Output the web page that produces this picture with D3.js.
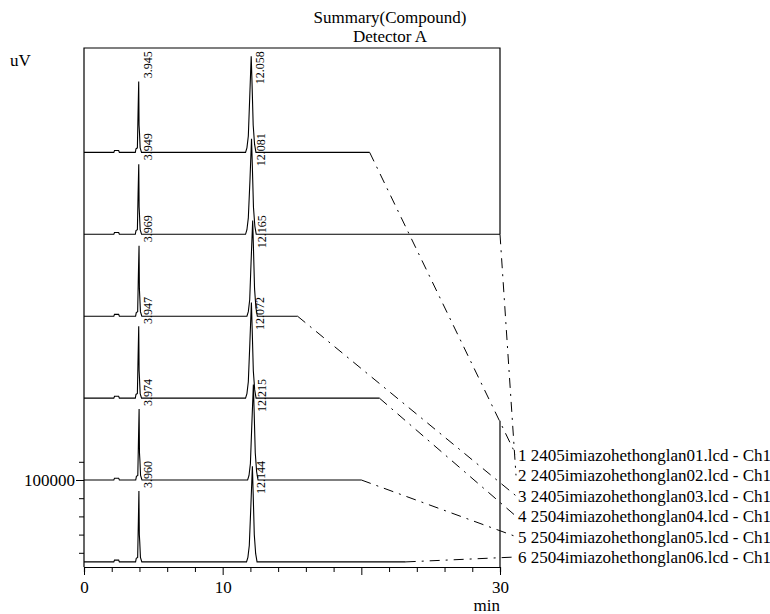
<!DOCTYPE html>
<html>
<head>
<meta charset="utf-8">
<script src="https://cdn.jsdelivr.net/npm/d3@7"></script>
<style>
  body { margin: 0; background: #fff; }
  svg text { font-family: "Liberation Serif", "Times New Roman", serif; fill: #000; }
</style>
</head>
<body>
<div id="chart"></div>
<script>
// chromatogram summary, 6 runs stacked with offset
var fileNames = [
    '2405imiazohethonglan01.lcd - Ch1',
    '2405imiazohethonglan02.lcd - Ch1',
    '2405imiazohethonglan03.lcd - Ch1',
    '2504imiazohethonglan04.lcd - Ch1',
    '2504imiazohethonglan05.lcd - Ch1',
    '2504imiazohethonglan06.lcd - Ch1'
];
// baseline offset of every run (uV)
var offsets = [460000, 370000, 280000, 190000, 100000, 10000];
// retention time labels
var rtFirst = ['3.945', '3.949', '3.969', '3.947', '3.974', '3.960'];
var rtSecond = ['12.058', '12.081', '12.165', '12.072', '12.215', '12.144'];
var xTicks = [0, 10, 20, 30];
var xTickLabels = ['0', '10', '', '30'];
var yTicks = [20000, 40000, 60000, 80000, 100000, 120000];
var yTickLabels = ['', '', '', '', '100000', ''];

// signal of every run: [min, uV]
var trace1 = [[0,0],[2.15,0],[2.2,2000],[2.5,2000],[2.55,0],[3.7,0],[3.75,4000],[3.85,5000],[3.9,45000],[3.945,78000],[3.97,30000],[4.0,22000],[4.05,5000],[4.15,0],
    [11.65,0],[11.75,5000],[11.85,18000],[11.95,60000],[12.058,105500],[12.12,75000],[12.2,30000],[12.3,9000],[12.4,0],[20.6,0]];
var trace2 = [[0,0],[2.15,0],[2.2,2000],[2.5,2000],[2.55,0],[3.7,0],[3.75,4000],[3.85,5000],[3.9,44000],[3.949,77000],[3.975,30000],[4.0,22000],[4.05,5000],[4.15,0],
    [11.65,0],[11.75,5000],[11.85,18000],[11.97,60000],[12.081,105000],[12.14,75000],[12.22,30000],[12.32,9000],[12.42,0],[30,0]];
var trace3 = [[0,0],[2.15,0],[2.2,2000],[2.5,2000],[2.55,0],[3.72,0],[3.77,4000],[3.87,5000],[3.92,44000],[3.969,77500],[3.995,30000],[4.02,22000],[4.07,5000],[4.17,0],
    [11.75,0],[11.85,5000],[11.95,18000],[12.05,60000],[12.165,105000],[12.22,75000],[12.3,30000],[12.4,9000],[12.5,0],[15.4,0]];
var trace4 = [[0,0],[2.15,0],[2.2,2000],[2.5,2000],[2.55,0],[3.7,0],[3.75,4000],[3.85,5000],[3.9,45000],[3.947,79000],[3.975,30000],[4.0,22000],[4.05,5000],[4.15,0],
    [11.65,0],[11.75,5000],[11.85,18000],[11.96,60000],[12.072,105000],[12.13,75000],[12.21,30000],[12.31,9000],[12.41,0],[21.3,0]];
var trace5 = [[0,0],[2.15,0],[2.2,2000],[2.5,2000],[2.55,0],[3.73,0],[3.78,4000],[3.88,5000],[3.93,45000],[3.974,78000],[4.0,30000],[4.03,22000],[4.08,5000],[4.18,0],
    [11.8,0],[11.9,5000],[12.0,18000],[12.1,60000],[12.215,105000],[12.27,75000],[12.35,30000],[12.45,9000],[12.55,0],[20.0,0]];
var trace6 = [[0,0],[2.15,0],[2.2,2000],[2.5,2000],[2.55,0],[3.72,0],[3.77,4000],[3.87,5000],[3.92,44000],[3.960,78000],[3.99,30000],[4.02,22000],[4.07,5000],[4.17,0],
    [11.72,0],[11.82,5000],[11.92,18000],[12.03,60000],[12.144,105000],[12.2,75000],[12.28,30000],[12.38,9000],[12.48,0],[23.2,0]];
var traces = [trace1, trace2, trace3, trace4, trace5, trace6];

var width = 770,
    height = 614,
    margin = {left: 84, top: 48, right: 270, bottom: 47};

var xScale = d3.scaleLinear().domain([0, 30]).range([margin.left, width - margin.right]);
var yScale = d3.scaleLinear().domain([4400, 574700]).range([height - margin.bottom, margin.top]);

var svg = d3.select('#chart').append('svg')
    .attr('width', width)
    .attr('height', height);

// titles
svg.append('text').attr('x', 390).attr('y', 23).attr('text-anchor', 'middle')
    .style('font-size', '17px').text('Summary(Compound)');
svg.append('text').attr('x', 390).attr('y', 42).attr('text-anchor', 'middle')
    .style('font-size', '17px').text('Detector A');
svg.append('text').attr('x', 10).attr('y', 66).style('font-size', '17px').text('uV');
svg.append('text').attr('x', 500).attr('y', 611).attr('text-anchor', 'end')
    .style('font-size', '17px').text('min');

var x0 = xScale(0), x1 = xScale(30), yTop = yScale.range()[1], yBot = yScale.range()[0];

// frame
svg.append('path')
    .attr('d', 'M' + x0 + ',' + yBot + 'V' + yTop + 'H' + x1 + 'V' + yScale(offsets[1]))
    .attr('fill', 'none').attr('stroke', '#000').attr('stroke-width', 1.2);
svg.append('line')
    .attr('x1', x1).attr('x2', x1)
    .attr('y1', yScale(165000)).attr('y2', yBot)
    .attr('stroke', '#000').attr('stroke-width', 1.2);

// x axis
var xAxis = d3.axisBottom(xScale)
    .tickValues(d3.range(0, 31, 2))
    .tickSize(5)
    .tickFormat(function(d) { var i = xTicks.indexOf(d); return i < 0 ? '' : xTickLabels[i]; });
var gx = svg.append('g').attr('transform', 'translate(0,' + yBot + ')').call(xAxis);
gx.select('.domain').attr('stroke-width', 1.2);
gx.selectAll('.tick line').attr('y2', function(d) { return xTicks.indexOf(d) < 0 ? 5 : 8; });
gx.selectAll('.tick text').attr('y', 14).style('font-size', '17px')
    .style('font-family', '"Liberation Serif", serif');

// y axis (only the bottom part is ticked)
var yAxis = d3.axisLeft(yScale)
    .tickValues(yTicks)
    .tickSize(5)
    .tickFormat(function(d, i) { return yTickLabels[i]; });
var gy = svg.append('g').attr('transform', 'translate(' + x0 + ',0)').call(yAxis);
gy.select('.domain').remove();
gy.selectAll('.tick line').attr('x2', function(d) { return d === 100000 ? -8 : -5; });
gy.selectAll('.tick text').attr('x', -9).style('font-size', '17px')
    .style('font-family', '"Liberation Serif", serif');

// traces
var gTr = svg.append('g');
traces.forEach(function(tr, i) {
    var off = offsets[i];
    var ln = d3.line()
        .x(function(d) { return xScale(d[0]); })
        .y(function(d) { return yScale(d[1] + off); });
    gTr.append('path')
        .datum(tr)
        .attr('d', ln)
        .attr('fill', 'none')
        .attr('stroke', '#000')
        .attr('stroke-width', 1.1);
});

// peak labels, aligned to a fixed height over each baseline
var labelLift = 111000;
var gLab = svg.append('g');
[rtFirst, rtSecond].forEach(function(rts) {
    gLab.selectAll(null)
        .data(rts)
        .enter().append('text')
        .attr('transform', function(d, i) {
            return 'translate(' + (xScale(+d) + 13) + ',' + yScale(offsets[i] + labelLift) + ') rotate(-90)';
        })
        .attr('text-anchor', 'end')
        .style('font-size', '12px')
        .text(function(d) { return d; });
});

// legend + dash-dot connectors
var legX = 518, legY0 = 461, legStep = 20.4;
fileNames.forEach(function(name, i) {
    var tr = traces[i];
    var end = tr[tr.length - 1];
    var ly = legY0 + i * legStep;
    svg.append('line')
        .attr('x1', xScale(end[0])).attr('y1', yScale(offsets[i]))
        .attr('x2', legX - 2).attr('y2', ly - 6)
        .attr('stroke', '#000')
        .attr('stroke-width', 1)
        .attr('stroke-dasharray', '10,6,2,6');
    svg.append('text')
        .attr('x', legX).attr('y', ly)
        .style('font-size', '17px')
        .text((i + 1) + ' ' + name);
});
</script>
</body>
</html>
